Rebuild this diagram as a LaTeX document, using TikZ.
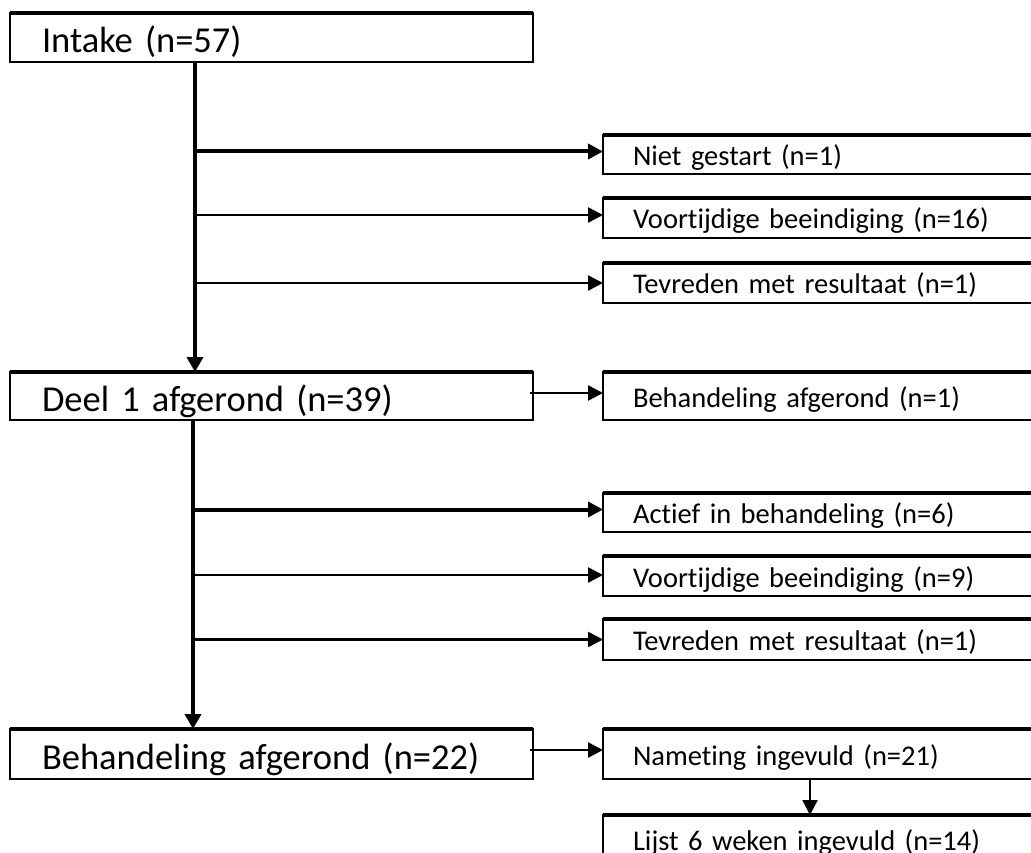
\documentclass[tikz,border=0pt]{standalone}
\usepackage{fontspec}
\setmainfont{Carlito}[Ligatures=NoCommon]
\usetikzlibrary{arrows.meta,calc}
\begin{document}
\begin{tikzpicture}[x=1pt,y=-1pt,
  bigbox/.style={draw, line width=2pt, rectangle, anchor=north west, outer sep=0pt,
    inner xsep=32pt, inner ysep=0pt, minimum width=523pt, text width=459pt, align=left,
    font=\fontsize{36.5}{40}\selectfont, text height=32pt, text depth=2pt},
  sidebox/.style={draw, line width=2pt, rectangle, anchor=north west, outer sep=0pt,
    inner xsep=30pt, inner ysep=0pt, minimum width=470pt, text width=410pt, align=left,
    font=\fontsize{28.5}{32}\selectfont, text height=24pt, text depth=2pt},
  topedge/.style={line width=4pt},
  arr/.style={line width=2.5pt, -{Triangle[length=15pt,width=15pt]}},
  thickarr/.style={line width=4pt, -{Triangle[length=15pt,width=15pt]}},
  trunk/.style={line width=4pt, -{Triangle[length=15pt,width=16pt]}},
]
\useasboundingbox (0,0) rectangle (1031,853);
\fill[white] (0,0) rectangle (1031,853);
\clip (0,0) rectangle (1031,853);

\node[bigbox, minimum height=49pt] (intake) at (10,13) {Intake (n=57)};
\node[bigbox, minimum height=48pt] (deel) at (10,372) {Deel 1 afgerond (n=39)};
\node[bigbox, minimum height=50pt] (behtot) at (10,729) {Behandeling afgerond (n=22)};

\node[sidebox, minimum height=39pt] (niet) at (603,135) {Niet gestart (n=1)};
\node[sidebox, minimum height=40pt] (voort1) at (603,198) {Voortijdige beeindiging (n=16)};
\node[sidebox, minimum height=40pt] (tevr1) at (603,263) {Tevreden met resultaat (n=1)};
\node[sidebox, minimum height=48pt] (behaf) at (603,372) {Behandeling afgerond (n=1)};
\node[sidebox, minimum height=39pt] (actief) at (603,493) {Actief in behandeling (n=6)};
\node[sidebox, minimum height=40pt] (voort2) at (603,556) {Voortijdige beeindiging (n=9)};
\node[sidebox, minimum height=41pt] (tevr2) at (603,619) {Tevreden met resultaat (n=1)};
\node[sidebox, minimum height=50pt] (nameting) at (603,729) {Nameting ingevuld (n=21)};
\node[sidebox, minimum height=48pt] (lijst) at (603,815) {Lijst 6 weken ingevuld (n=14)};

\foreach \n in {intake,deel,behtot,niet,voort1,tevr1,behaf,actief,voort2,tevr2,nameting,lijst}
  \draw[topedge] (\n.north west) -- (\n.north east);

\coordinate (t1) at ($(intake.south west)+(185,0)$);
\coordinate (t2) at ($(deel.south west)+(183,0)$);

\draw[trunk] (t1) -- (t1 |- deel.north);
\draw[thickarr] ($(t1 |- niet.west)+(0,-3)$) -- ($(niet.west)+(0,-3)$);
\draw[arr] ($(t1 |- voort1.west)+(0,-3)$) -- ($(voort1.west)+(0,-3)$);
\draw[arr] (t1 |- tevr1.west) -- (tevr1.west);
\draw[arr] ($(deel.east)+(-3,-3)$) -- ($(behaf.west)+(0,-3)$);

\draw[trunk] (t2) -- (t2 |- behtot.north);
\draw[thickarr] ($(t2 |- actief.west)+(0,-3)$) -- ($(actief.west)+(0,-3)$);
\draw[arr] ($(t2 |- voort2.west)+(0,-1)$) -- ($(voort2.west)+(0,-1)$);
\draw[arr] (t2 |- tevr2.west) -- (tevr2.west);
\draw[arr] ($(behtot.east)+(-3,-4)$) -- ($(nameting.west)+(0,-4)$);

\coordinate (d) at ($(nameting.south west)+(207,0)$);
\draw[arr] (d) -- (d |- lijst.north);
\end{tikzpicture}
\end{document}
